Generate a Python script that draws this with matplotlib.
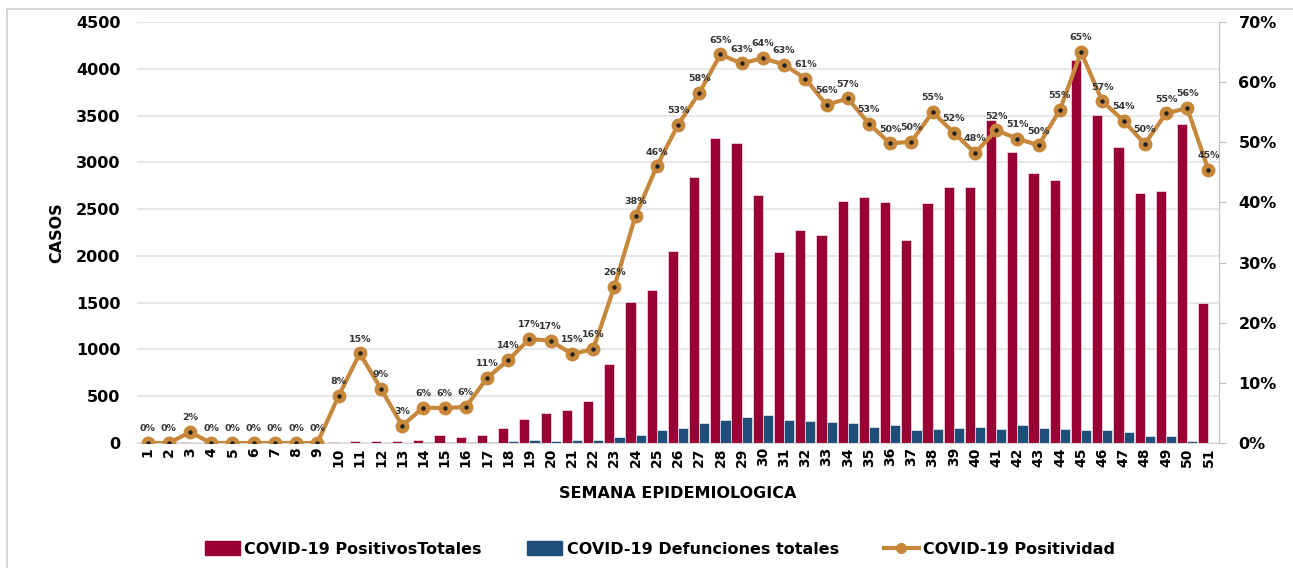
import matplotlib
matplotlib.use("Agg")
import matplotlib.pyplot as plt
from matplotlib.lines import Line2D
from matplotlib.patches import Patch
import numpy as np

weeks = list(range(1, 52))
positivos = [0, 0, 10, 0, 0, 0, 0, 0, 0, 10,
             25, 25, 18, 35, 90, 60, 90, 160, 255, 320,
             350, 445, 845, 1510, 1635, 2055, 2840, 3255, 3210, 2655,
             2040, 2275, 2220, 2585, 2625, 2575, 2175, 2570, 2740, 2740,
             3450, 3115, 2890, 2815, 4090, 3510, 3165, 2670, 2690, 3405,
             1500]
defunciones = [0, 0, 0, 0, 0, 0, 0, 0, 0, 3,
               5, 5, 5, 6, 8, 15, 15, 20, 35, 25,
               35, 30, 60, 90, 140, 160, 210, 250, 280, 295,
               245, 230, 220, 215, 175, 195, 135, 150, 160, 175,
               150, 190, 160, 145, 135, 135, 120, 75, 75, 25,
               0]
positividad = [0, 0, 1.8, 0, 0, 0, 0, 0, 0, 7.8,
               14.9, 9.0, 2.9, 5.9, 5.8, 6.0, 10.8, 13.8, 17.3, 17.0,
               14.8, 15.6, 26.0, 37.8, 46.0, 52.9, 58.2, 64.6, 63.1, 64.0,
               62.9, 60.6, 56.2, 57.3, 53.1, 49.8, 50.1, 55.0, 51.6, 48.2,
               52.0, 50.6, 49.5, 55.4, 65.0, 56.8, 53.6, 49.7, 54.8, 55.7,
               45.4]

RED = "#990033"
BLUE = "#1F4E79"
ORANGE = "#C8883C"
FONT = "DejaVu Sans"

plt.rcParams['font.family'] = [FONT]

fig = plt.figure(figsize=(12.93, 5.68), dpi=100)
ax = fig.add_axes([137/1293, 1 - 443/568, (1219-137)/1293, (443-22)/568])
ax2 = ax.twinx()

x = np.array(weeks)
w = 0.48
ax.bar(x - w/2, positivos, width=w, color=RED, edgecolor="white", linewidth=0.4, zorder=2)
ax.bar(x + w/2, defunciones, width=w, color=BLUE, edgecolor="white", linewidth=0.4, zorder=2)

ax.set_xlim(0.5, 51.5)
ax.set_ylim(0, 4500)
ax.set_yticks(range(0, 4501, 500))
ax.grid(axis="y", color="#e3e3e3", linewidth=1.2, zorder=0)
ax.set_axisbelow(True)
for s in ["left", "top", "right"]:
    ax.spines[s].set_visible(False)
ax.spines["bottom"].set_color("#d9d9d9")
ax.tick_params(axis="y", length=0, labelsize=11.5, pad=12)
ax.tick_params(axis="x", length=0, labelsize=10, pad=3)
ax.set_xticks(weeks)
ax.set_xticklabels([str(v) for v in weeks], rotation=90, fontweight="bold")
for t in ax.get_yticklabels():
    t.set_fontweight("bold")
ax.set_ylabel("CASOS", fontsize=11.5, fontweight="bold", labelpad=8)
ax.set_xlabel("SEMANA EPIDEMIOLOGICA", fontsize=11.5, fontweight="bold", labelpad=14)

ax2.plot(x, positividad, color=ORANGE, linewidth=3, marker="o", markersize=9,
         markerfacecolor=ORANGE, markeredgecolor=ORANGE, zorder=3)
ax2.plot(x, positividad, linestyle="none", marker="o", markersize=2.2,
         color="#222222", zorder=4)
ax2.set_ylim(0, 70)
ax2.set_yticks(range(0, 71, 10))
ax2.set_yticklabels([f"{v}%" for v in range(0, 71, 10)], fontweight="bold")
ax2.tick_params(axis="y", length=5, color="#bfbfbf", labelsize=11.5, pad=9)
for s in ["left", "top", "bottom"]:
    ax2.spines[s].set_visible(False)
ax2.spines["right"].set_color("#bfbfbf")
for xi, yi in zip(x, positividad):
    ax2.annotate(f"{yi:.0f}%", (xi, yi), xytext=(0, 7), textcoords="offset points",
                 ha="center", va="bottom", fontsize=6.8, fontweight="bold",
                 color="#333333", zorder=5)

handles = [Patch(color=RED), Patch(color=BLUE),
           Line2D([0], [0], color=ORANGE, linewidth=3, marker="o", markersize=7,
                  markerfacecolor=ORANGE, markeredgecolor=ORANGE)]
labels = ["COVID-19 PositivosTotales", "COVID-19 Defunciones totales", "COVID-19 Positividad"]
fig.legend(handles, labels, loc="center", bbox_to_anchor=(660/1293, 1 - 549/568), ncol=3,
           frameon=False, prop={"weight": "bold", "size": 11.5},
           handlelength=2.2, handleheight=0.9, columnspacing=2.8, handletextpad=0.3)

# figure border
fig.add_artist(Line2D([7/1293, 7/1293], [0, 1 - 9/568], color="#d0d0d0", linewidth=1.2))
fig.add_artist(Line2D([7/1293, 1], [1 - 9/568, 1 - 9/568], color="#d0d0d0", linewidth=1.2))

fig.savefig("out.png", dpi=100, facecolor="white")
